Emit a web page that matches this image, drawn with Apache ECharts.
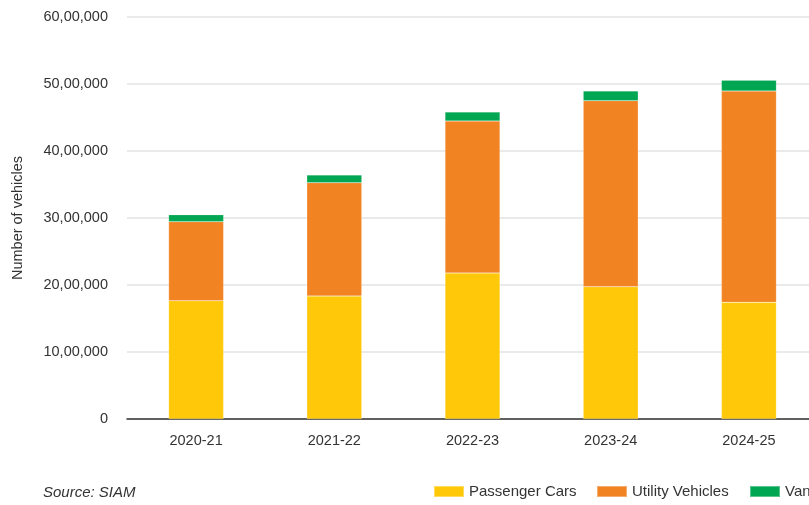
<!DOCTYPE html>
<html>
<head>
<meta charset="utf-8">
<script src="https://cdn.jsdelivr.net/npm/echarts@6/dist/echarts.min.js"></script>
<style>
  html, body { margin: 0; padding: 0; background: #fff; overflow: hidden; width: 809px; height: 505px; }
  /* the plot runs past the right edge of the page, so the canvas is wider than the view */
  #chart { width: 818px; height: 505px; }
</style>
</head>
<body>
<div id="chart"></div>
<script>
// Passenger vehicle production by segment, number of vehicles
const years = ['2020-21', '2021-22', '2022-23', '2023-24', '2024-25'];
const passengerCars = [1766000, 1836000, 2180000, 1975000, 1741000];
const utilityVehicles = [1179000, 1691000, 2268000, 2776000, 3155000];
const vans = [104000, 115000, 134000, 145000, 159000];

const FONT = 'Liberation Sans, Arial, sans-serif';

// Indian digit grouping: 60,00,000
function indianFormat(v) {
  const s = String(Math.round(v));
  if (s.length <= 3) return s;
  const last3 = s.slice(-3);
  let rest = s.slice(0, -3);
  const parts = [];
  while (rest.length > 2) {
    parts.unshift(rest.slice(-2));
    rest = rest.slice(0, -2);
  }
  if (rest.length) parts.unshift(rest);
  return parts.join(',') + ',' + last3;
}

const chart = echarts.init(document.getElementById('chart'), null, { renderer: 'canvas' });

const barStyle = (color) => ({
  color: color,
  borderColor: 'rgba(255,255,255,0.35)',
  borderWidth: 0.5
});

const legendText = { fontFamily: FONT, fontSize: 15, color: '#333' };
const legendItem = (name, left) => ({
  left: left,
  top: 479,
  itemWidth: 30,
  itemHeight: 11,
  icon: 'rect',
  textStyle: legendText,
  data: [name]
});

chart.setOption({
  animation: false,
  grid: { left: 127, top: 17, right: 0, bottom: 86, containLabel: false },
  legend: [
    legendItem('Passenger Cars', 428),
    legendItem('Utility Vehicles', 591),
    legendItem('Vans', 744)
  ],
  graphic: [{
    type: 'text',
    left: 43,
    top: 485,
    style: {
      text: 'Source: SIAM',
      fontFamily: FONT,
      fontSize: 15,
      fontStyle: 'italic',
      fill: '#333'
    }
  }],
  xAxis: {
    type: 'category',
    data: years,
    axisLine: { lineStyle: { color: '#333', width: 1.5 } },
    axisTick: { show: false },
    axisLabel: { fontFamily: FONT, fontSize: 14.5, color: '#333', margin: 14 }
  },
  yAxis: {
    type: 'value',
    min: 0,
    max: 6000000,
    interval: 1000000,
    name: 'Number of vehicles',
    nameLocation: 'middle',
    nameGap: 102,
    nameTextStyle: { fontFamily: FONT, fontSize: 14.5, color: '#333' },
    axisLine: { show: false },
    axisTick: { show: false },
    axisLabel: {
      fontFamily: FONT, fontSize: 14.5, color: '#333', margin: 19,
      formatter: indianFormat
    },
    splitLine: { lineStyle: { color: '#e3e3e3', width: 1.5 } }
  },
  series: [
    { name: 'Passenger Cars', type: 'bar', stack: 'pv', barWidth: 55,
      itemStyle: barStyle('#FFC90A'), data: passengerCars },
    { name: 'Utility Vehicles', type: 'bar', stack: 'pv', barWidth: 55,
      itemStyle: barStyle('#F28322'), data: utilityVehicles },
    { name: 'Vans', type: 'bar', stack: 'pv', barWidth: 55,
      itemStyle: barStyle('#00A651'), data: vans }
  ]
});
</script>
</body>
</html>
